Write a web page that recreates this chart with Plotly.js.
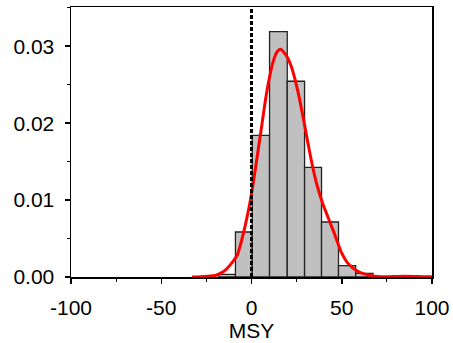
<!DOCTYPE html>
<html>
<head>
<meta charset="utf-8">
<script src="https://cdn.plot.ly/plotly-3.0.1.min.js"></script>
<style>html,body{margin:0;padding:0;background:#fff;}#chart{width:453px;height:343px;}</style>
</head>
<body>
<div id="chart"></div>
<script>
// Histogram bin edges and densities
const binEdges = [-18.1, -8.9, 0.4, 10.0, 19.8, 29.4, 38.8, 48.2, 57.7, 67.3];
const binDensity = [0.00035, 0.00585, 0.0184, 0.0319, 0.02545, 0.01426, 0.00715, 0.00147, 0.00048];

// Smoothed density curve (red)
const curveX = [-33, -28, -24, -20, -17, -14, -11, -8, -5, -2, 0, 2, 4, 6, 8, 10, 12, 14, 16, 18, 20, 22, 24, 26, 28, 30, 32, 34, 36, 38, 40, 42, 44, 46, 48, 50, 53, 56, 60, 64, 68, 72, 76, 80, 85, 90, 95, 100];
const curveY = [0, 0.00003, 0.0001, 0.0002, 0.0005, 0.001, 0.0018, 0.0028, 0.0052, 0.0083, 0.0108, 0.0138, 0.0170, 0.0202, 0.0234, 0.0260, 0.0280, 0.0292, 0.0296, 0.0292, 0.0285, 0.0274, 0.0258, 0.0238, 0.0215, 0.0190, 0.0165, 0.0142, 0.0122, 0.0106, 0.0092, 0.0080, 0.0068, 0.0056, 0.0043, 0.0031, 0.0019, 0.0012, 0.0006, 0.0003, 0.0001, 0.00003, 0.00003, 0.00008, 0.0001, 0.00008, 0.00004, 0.00002];

const xTicks = [-100, -50, 0, 50, 100];
const yTicks = [0, 0.01, 0.02, 0.03];
const refLineX = 0;
const xTitle = 'MSY';

const centers = [], widths = [];
for (let i = 0; i < binDensity.length; i++) {
  centers.push((binEdges[i] + binEdges[i + 1]) / 2);
  widths.push(binEdges[i + 1] - binEdges[i]);
}

const font = {family: 'Liberation Sans, Arial, sans-serif', size: 21, color: '#000'};

const data = [
  {
    type: 'bar', x: centers, y: binDensity, width: widths,
    marker: {color: '#c0c0c0', line: {color: '#222', width: 1.3}},
    hoverinfo: 'none', showlegend: false
  },
  {
    type: 'scatter', mode: 'lines', x: curveX, y: curveY,
    line: {color: '#ff0000', width: 3, shape: 'spline', smoothing: 0.8},
    hoverinfo: 'none', showlegend: false
  }
];

const layout = {
  width: 453, height: 343,
  margin: {l: 71, r: 21, t: 7, b: 66},
  paper_bgcolor: '#fff', plot_bgcolor: '#fff',
  font: font,
  showlegend: false,
  bargap: 0,
  xaxis: {
    range: [-100, 100], tickvals: xTicks, ticktext: xTicks.map(String),
    ticks: 'outside', ticklen: 5, tickwidth: 1.5, tickcolor: '#000',
    minor: {dtick: 25, tick0: 0, ticks: 'outside', ticklen: 3, tickwidth: 1, tickcolor: '#000', showgrid: false},
    showline: true, linecolor: '#000', linewidth: 1.5, mirror: true,
    showgrid: false, zeroline: false,
    ticklabelstandoff: 6,
    tickfont: font,
    title: {text: xTitle, font: font, standoff: 0}
  },
  yaxis: {
    range: [0, 0.0351], tickvals: yTicks, ticktext: yTicks.map(v => v.toFixed(2)),
    ticks: 'outside', ticklen: 5, tickwidth: 1.5, tickcolor: '#000',
    minor: {dtick: 0.005, tick0: 0, ticks: 'outside', ticklen: 3, tickwidth: 1, tickcolor: '#000', showgrid: false},
    showline: true, linecolor: '#000', linewidth: 1.5, mirror: true,
    showgrid: false, zeroline: false,
    ticklabelstandoff: 6,
    tickfont: font
  },
  shapes: [{
    type: 'line', xref: 'x', yref: 'paper', x0: refLineX, x1: refLineX, y0: 0, y1: 1,
    line: {color: '#000', width: 3, dash: '4px,2px'}, layer: 'above'
  }]
};

Plotly.newPlot('chart', data, layout, {displayModeBar: false, staticPlot: true});
</script>
</body>
</html>
